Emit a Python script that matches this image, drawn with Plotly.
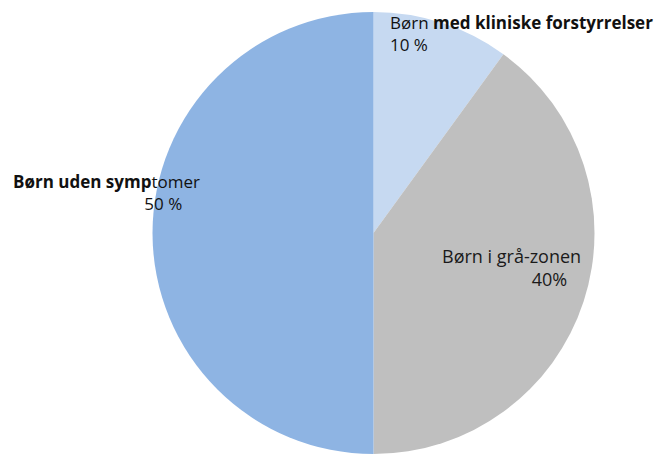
import plotly.graph_objects as go

categories = ["Børn med kliniske forstyrrelser", "Børn i grå-zonen", "Børn uden symptomer"]
values = [10, 40, 50]
value_labels = ["10 %", "40%", "50 %"]
colors = ["#c6d9f1", "#bfbfbf", "#8eb4e3"]

W, H = 662, 454

fig = go.Figure(go.Pie(
    labels=categories,
    values=values,
    sort=False,
    direction="clockwise",
    rotation=0,
    marker=dict(colors=colors, line=dict(width=0)),
    textinfo="none",
    hoverinfo="label+percent",
    domain=dict(x=[152.5 / W, 594.5 / W], y=[0, 1 - 12 / H]),
    showlegend=False,
))

font_bold = dict(family="'Open Sans', Lato, sans-serif", size=17, color="#111111")
font_reg = dict(family="'Open Sans', Lato, sans-serif", size=18, color="#1a1a1a")
nb = "&nbsp;"

# label positions (paper coords) and styling
ann = [
    dict(text="Børn <b>med kliniske forstyrrelser</b><br>" + value_labels[0],
         x=388 / W, y=1 - 9 / H, xanchor="left", yanchor="top", align="left", font=font_bold),
    dict(text=categories[1] + "<br>" + value_labels[1] + nb * 3,
         x=583 / W, y=1 - 242 / H, xanchor="right", yanchor="top", align="right", font=font_reg),
    dict(text="<b>Børn uden symp</b>tomer<br>" + value_labels[2] + nb * 4,
         x=202 / W, y=1 - 168 / H, xanchor="right", yanchor="top", align="right", font=font_bold),
]
for a in ann:
    fig.add_annotation(xref="paper", yref="paper", showarrow=False, **a)

fig.update_layout(
    width=W, height=H,
    margin=dict(l=0, r=0, t=0, b=0),
    paper_bgcolor="white",
    plot_bgcolor="white",
)

fig.write_html("out.html", config={"displayModeBar": False},
               post_script="document.body.style.margin='0';document.body.style.overflow='hidden';")
